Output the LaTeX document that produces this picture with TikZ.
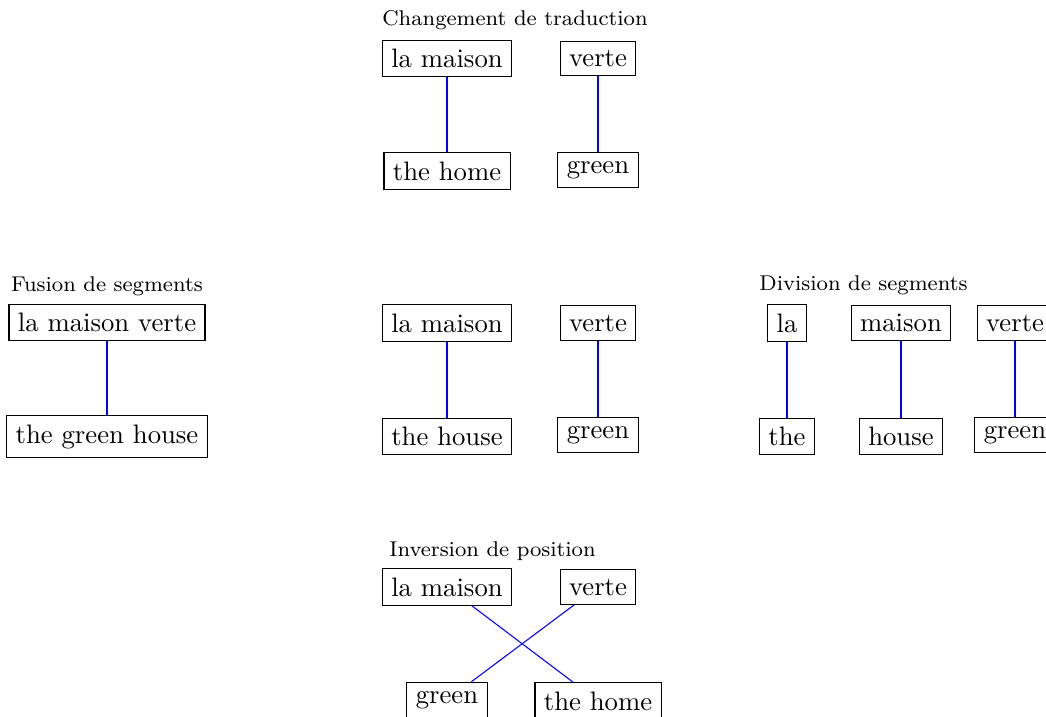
\documentclass[tikz,border=0pt]{standalone}
\begin{document}
\begin{tikzpicture}[x=0.3745pt,y=-0.3745pt,
  word/.style={draw, black, line width=0.4pt, inner sep=0.333em},
  grp/.style={font=\footnotesize, inner sep=0pt, anchor=base},
  link/.style={blue, line width=0.4pt}]
\clip (0,0) rectangle (1046,717);
% Changement de traduction
\node[grp] (l1) at (515,25.5) {Changement de traduction};
\node[word] (a1) at (447,58.5) {la maison};
\node[word] (a2) at (598,58.5) {verte};
\node[word] (a3) at (447,171) {the home};
\node[word] (a4) at (598,170) {green};
\draw[link] (a1) -- (a3);
\draw[link] (a2) -- (a4);
% Fusion de segments
\node[grp] (l2) at (107,291) {Fusion de segments};
\node[word] (b1) at (107,322.5) {la maison verte};
\node[word] (b2) at (107,436.5) {the green house};
\draw[link] (b1) -- (b2);
% middle reference
\node[word] (c1) at (447,323) {la maison};
\node[word] (c2) at (598,323) {verte};
\node[word] (c3) at (447,436.5) {the house};
\node[word] (c4) at (598,435) {green};
\draw[link] (c1) -- (c3);
\draw[link] (c2) -- (c4);
% Division de segments
\node[grp] (l3) at (863.5,290) {Division de segments};
\node[word] (d1) at (787,323) {la};
\node[word] (d2) at (901,323) {maison};
\node[word] (d3) at (1015,323) {verte};
\node[word] (d4) at (787,436.5) {the};
\node[word] (d5) at (901,436.5) {house};
\node[word] (d6) at (1015,435) {green};
\draw[link] (d1) -- (d4);
\draw[link] (d2) -- (d5);
\draw[link] (d3) -- (d6);
% Inversion de position
\node[grp] (l4) at (492.5,556) {Inversion de position};
\node[word] (e1) at (447,587) {la maison};
\node[word] (e2) at (598,587) {verte};
\node[word] (e3) at (447,700) {green};
\node[word] (e4) at (598,701) {the home};
\draw[link] (e1) -- (e4);
\draw[link] (e2) -- (e3);
\end{tikzpicture}
\end{document}
